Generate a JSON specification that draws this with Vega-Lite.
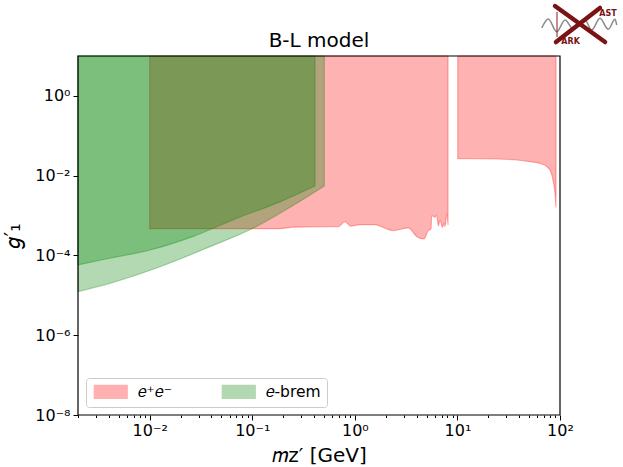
{
  "$schema": "https://vega.github.io/schema/vega-lite/v6.json",
  "width": 482,
  "height": 359,
  "autosize": "none",
  "padding": {"left": 78, "top": 56, "right": 63, "bottom": 52},
  "background": "white",
  "config": {
    "font": "DejaVu Sans",
    "view": {"stroke": null}
  },
  "title": {
    "text": "B-L model",
    "fontSize": 20,
    "fontWeight": "normal",
    "font": "DejaVu Sans",
    "color": "black",
    "anchor": "middle",
    "offset": -54
  },
  "datasets": {
    "limits": [
      {"series": "𝑒⁺𝑒⁻", "region": "r1", "m": 0.01, "g": 0.00047},
      {"series": "𝑒⁺𝑒⁻", "region": "r1", "m": 0.186, "g": 0.00047},
      {"series": "𝑒⁺𝑒⁻", "region": "r1", "m": 0.249, "g": 0.00051},
      {"series": "𝑒⁺𝑒⁻", "region": "r1", "m": 0.573, "g": 0.00053},
      {"series": "𝑒⁺𝑒⁻", "region": "r1", "m": 0.69, "g": 0.00053},
      {"series": "𝑒⁺𝑒⁻", "region": "r1", "m": 0.8, "g": 0.0007},
      {"series": "𝑒⁺𝑒⁻", "region": "r1", "m": 0.912, "g": 0.00054},
      {"series": "𝑒⁺𝑒⁻", "region": "r1", "m": 1.12, "g": 0.00059},
      {"series": "𝑒⁺𝑒⁻", "region": "r1", "m": 1.57, "g": 0.00059},
      {"series": "𝑒⁺𝑒⁻", "region": "r1", "m": 1.97, "g": 0.00048},
      {"series": "𝑒⁺𝑒⁻", "region": "r1", "m": 2.37, "g": 0.00042},
      {"series": "𝑒⁺𝑒⁻", "region": "r1", "m": 3.32, "g": 0.00049},
      {"series": "𝑒⁺𝑒⁻", "region": "r1", "m": 4.06, "g": 0.00029},
      {"series": "𝑒⁺𝑒⁻", "region": "r1", "m": 4.72, "g": 0.00026},
      {"series": "𝑒⁺𝑒⁻", "region": "r1", "m": 5.2, "g": 0.00042},
      {"series": "𝑒⁺𝑒⁻", "region": "r1", "m": 5.53, "g": 0.00046},
      {"series": "𝑒⁺𝑒⁻", "region": "r1", "m": 5.61, "g": 0.001},
      {"series": "𝑒⁺𝑒⁻", "region": "r1", "m": 6.05, "g": 0.00091},
      {"series": "𝑒⁺𝑒⁻", "region": "r1", "m": 6.28, "g": 0.00103},
      {"series": "𝑒⁺𝑒⁻", "region": "r1", "m": 6.52, "g": 0.00055},
      {"series": "𝑒⁺𝑒⁻", "region": "r1", "m": 6.76, "g": 0.00078},
      {"series": "𝑒⁺𝑒⁻", "region": "r1", "m": 7.13, "g": 0.00051},
      {"series": "𝑒⁺𝑒⁻", "region": "r1", "m": 7.45, "g": 0.00064},
      {"series": "𝑒⁺𝑒⁻", "region": "r1", "m": 7.57, "g": 0.00053},
      {"series": "𝑒⁺𝑒⁻", "region": "r1", "m": 7.87, "g": 0.0011},
      {"series": "𝑒⁺𝑒⁻", "region": "r1", "m": 8.1, "g": 0.00058},
      {"series": "𝑒⁺𝑒⁻", "region": "r2", "m": 10.07, "g": 0.0267},
      {"series": "𝑒⁺𝑒⁻", "region": "r2", "m": 24.2, "g": 0.0262},
      {"series": "𝑒⁺𝑒⁻", "region": "r2", "m": 37.8, "g": 0.0247},
      {"series": "𝑒⁺𝑒⁻", "region": "r2", "m": 51, "g": 0.0224},
      {"series": "𝑒⁺𝑒⁻", "region": "r2", "m": 63.8, "g": 0.0204},
      {"series": "𝑒⁺𝑒⁻", "region": "r2", "m": 74.3, "g": 0.0168},
      {"series": "𝑒⁺𝑒⁻", "region": "r2", "m": 81.3, "g": 0.0126},
      {"series": "𝑒⁺𝑒⁻", "region": "r2", "m": 86, "g": 0.0071},
      {"series": "𝑒⁺𝑒⁻", "region": "r2", "m": 89.4, "g": 0.0036},
      {"series": "𝑒⁺𝑒⁻", "region": "r2", "m": 91.4, "g": 0.0016},
      {"series": "𝑒-brem", "region": "b1", "m": 0.002, "g": 0.0000124},
      {"series": "𝑒-brem", "region": "b1", "m": 0.0041, "g": 0.00002},
      {"series": "𝑒-brem", "region": "b1", "m": 0.0126, "g": 0.000052},
      {"series": "𝑒-brem", "region": "b1", "m": 0.0387, "g": 0.000166},
      {"series": "𝑒-brem", "region": "b1", "m": 0.1016, "g": 0.00048},
      {"series": "𝑒-brem", "region": "b1", "m": 0.186, "g": 0.00114},
      {"series": "𝑒-brem", "region": "b1", "m": 0.504, "g": 0.0055},
      {"series": "𝑒-brem", "region": "b2", "m": 0.002, "g": 0.000058},
      {"series": "𝑒-brem", "region": "b2", "m": 0.0041, "g": 0.000085},
      {"series": "𝑒-brem", "region": "b2", "m": 0.0101, "g": 0.000137},
      {"series": "𝑒-brem", "region": "b2", "m": 0.0266, "g": 0.0003},
      {"series": "𝑒-brem", "region": "b2", "m": 0.0705, "g": 0.00085},
      {"series": "𝑒-brem", "region": "b2", "m": 0.186, "g": 0.0022},
      {"series": "𝑒-brem", "region": "b2", "m": 0.409, "g": 0.0055}
    ],
    "logo": [
      {"part": "wave", "m": 66.4, "g": 50.4},
      {"part": "wave", "m": 76.9, "g": 84.5},
      {"part": "wave", "m": 92.9, "g": 40.6},
      {"part": "wave", "m": 112, "g": 79.8},
      {"part": "wave", "m": 135, "g": 46.7},
      {"part": "wave", "m": 157, "g": 66.1},
      {"part": "wave", "m": 175, "g": 79.8},
      {"part": "wave", "m": 204, "g": 44.9},
      {"part": "wave", "m": 245, "g": 88.1},
      {"part": "wave", "m": 296, "g": 46.7},
      {"part": "wave", "m": 344, "g": 83.2},
      {"part": "wave", "m": 357, "g": 59.9},
      {"part": "bar", "m": 93.5, "g": 126.8},
      {"part": "bar", "m": 93.5, "g": 29.9},
      {"part": "cross1", "m": 89.4, "g": 179},
      {"part": "cross1", "m": 275, "g": 22.4},
      {"part": "cross2", "m": 245, "g": 160},
      {"part": "cross2", "m": 91.4, "g": 22.4}
    ],
    "logoText": [
      {"label": "AST", "m": 294, "g": 112},
      {"label": "ARK", "m": 127, "g": 22}
    ]
  },
  "data": {"name": "limits"},
  "encoding": {
    "x": {
      "field": "m",
      "type": "quantitative",
      "scale": {"type": "log", "domain": [0.002, 100], "nice": false},
      "axis": {
        "title": "𝑚ᴢ′ [GeV]",
        "titleFontSize": 20,
        "titleFontWeight": "normal",
        "titleColor": "black",
        "titlePadding": 7,
        "grid": false,
        "domain": false,
        "tickColor": "black",
        "labelColor": "black",
        "labelFontSize": 16,
        "labelPadding": 2,
        "labelFlush": false,
        "labelOverlap": false,
        "labelBound": false,
        "values": [0.002,0.003,0.004,0.005,0.006,0.007,0.008,0.009,0.01,0.02,0.03,0.04,0.05,0.06,0.07,0.08,0.09,0.1,0.2,0.3,0.4,0.5,0.6,0.7,0.8,0.9,1,2,3,4,5,6,7,8,9,10,20,30,40,50,60,70,80,90,100],
        "labelExpr": "datum.value==0.01?'10⁻²':datum.value==0.1?'10⁻¹':datum.value==1?'10⁰':datum.value==10?'10¹':datum.value==100?'10²':''",
        "tickSize": {"condition": {"test": "datum.value==0.01||datum.value==0.1||datum.value==1||datum.value==10||datum.value==100", "value": 5}, "value": 2.5}
      }
    },
    "y": {
      "field": "g",
      "type": "quantitative",
      "scale": {"type": "log", "domain": [1e-8, 10], "nice": false},
      "axis": {
        "title": "𝑔′₁",
        "titleFontSize": 21,
        "titleFontWeight": "normal",
        "titleColor": "black",
        "titlePadding": 11,
        "grid": false,
        "domain": false,
        "tickColor": "black",
        "labelColor": "black",
        "labelFontSize": 16,
        "labelPadding": 3,
        "labelFlush": false,
        "labelOverlap": false,
        "labelBound": false,
        "values": [1e-8,1e-6,1e-4,0.01,1],
        "labelExpr": "datum.value==1?'10⁰':datum.value==0.01?'10⁻²':datum.value==0.0001?'10⁻⁴':datum.value<2e-8?'10⁻⁸':'10⁻⁶'",
        "tickSize": 5
      }
    }
  },
  "layer": [
    {
      "mark": {"type": "area", "interpolate": "monotone", "fillOpacity": 0.3, "strokeOpacity": 0.3, "strokeWidth": 1.2},
      "encoding": {
        "y2": {"datum": 10},
        "detail": {"field": "region"},
        "fill": {
          "field": "series",
          "type": "nominal",
          "scale": {"domain": ["𝑒⁺𝑒⁻", "𝑒-brem"], "range": ["#ff0000", "#008000"]},
          "legend": {
            "title": null,
            "orient": "none",
            "legendX": 8,
            "legendY": 322,
            "direction": "horizontal",
            "columns": 2,
            "columnPadding": 47,
            "labelFontSize": 15.5,
            "labelColor": "black",
            "symbolType": "M-1,-1.18H5V1.18H-1Z",
            "symbolSize": 121,
            "symbolOpacity": 0.3,
            "symbolStrokeWidth": 1.2,
            "labelOffset": 30,
            "fillColor": "white",
            "strokeColor": "#cccccc",
            "cornerRadius": 3,
            "padding": 6
          }
        },
        "stroke": {
          "field": "series",
          "type": "nominal",
          "scale": {"domain": ["𝑒⁺𝑒⁻", "𝑒-brem"], "range": ["#ff0000", "#008000"]},
          "legend": null
        }
      }
    },
    {
      "data": {"values": [{"m": 0.002, "m2": 100, "g": 1e-8, "g2": 10}]},
      "mark": {"type": "rect", "fill": null, "stroke": "black", "strokeWidth": 1.2},
      "encoding": {
        "x2": {"field": "m2"},
        "y2": {"field": "g2"}
      }
    },
    {
      "data": {"name": "logo"},
      "transform": [{"filter": "datum.part=='wave'"}],
      "mark": {"type": "line", "interpolate": "monotone", "color": "#8a8a8a", "strokeWidth": 1.5},
      "encoding": {"order": {"field": "m"}}
    },
    {
      "data": {"name": "logo"},
      "transform": [{"filter": "datum.part=='bar'"}],
      "mark": {"type": "line", "color": "#8b1a1a", "strokeWidth": 1},
      "encoding": {"order": {"field": "g"}}
    },
    {
      "data": {"name": "logo"},
      "transform": [{"filter": "datum.part=='cross1'||datum.part=='cross2'"}],
      "mark": {"type": "line", "color": "#7a1414", "strokeWidth": 4.5, "strokeCap": "round"},
      "encoding": {"detail": {"field": "part"}, "order": {"field": "m"}}
    },
    {
      "data": {"name": "logoText"},
      "mark": {"type": "text", "color": "#7a1414", "fontWeight": "bold", "fontSize": 8},
      "encoding": {"text": {"field": "label"}}
    }
  ]
}
